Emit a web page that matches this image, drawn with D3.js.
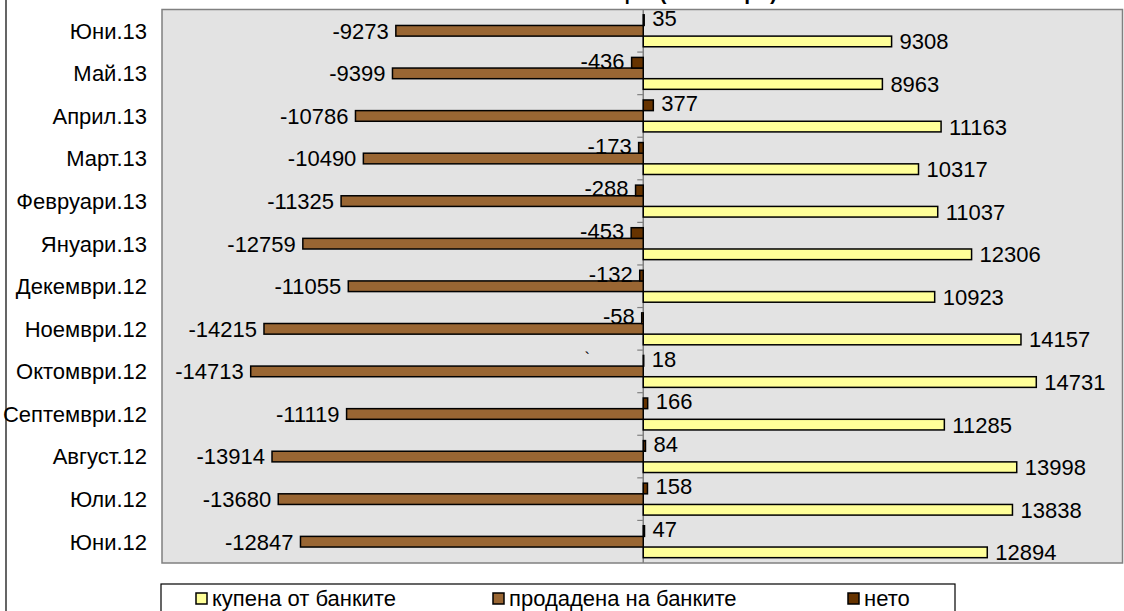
<!DOCTYPE html>
<html>
<head>
<meta charset="utf-8">
<script src="https://cdn.jsdelivr.net/npm/d3@7"></script>
<style>
  body { margin: 0; background: #fff; }
  text { font-family: "Liberation Sans", Arial, sans-serif; }
</style>
</head>
<body>
<div id="chart"></div>
<script>
// months, bottom to top
const months = ["Юни.12", "Юли.12", "Август.12", "Септември.12", "Октомври.12", "Ноември.12",
  "Декември.12", "Януари.13", "Февруари.13", "Март.13", "Април.13", "Май.13", "Юни.13"];
const bought = [12894, 13838, 13998, 11285, 14731, 14157, 10923, 12306, 11037, 10317, 11163, 8963, 9308];
const sold = [-12847, -13680, -13914, -11119, -14713, -14215, -11055, -12759, -11325, -10490, -10786, -9399, -9273];
const net = [47, 158, 84, 166, 18, -58, -132, -453, -288, -173, 377, -436, 35];
const seriesNames = ["купена от банките", "продадена на банките", "нето"];
const xDomain = [-18000, 18000];

const W = 1124, H = 611;
const plot = {left: 162, right: 1122.5, top: 9.5, bottom: 563};
const colors = {bought: "#ffff99", sold: "#996633", net: "#663300"};

const svg = d3.select("#chart").append("svg")
    .attr("width", W)
    .attr("height", H);

// chart area border (top/right/bottom run off the picture)
svg.append("rect")
    .attr("x", 6).attr("y", -10)
    .attr("width", 1130).attr("height", 640)
    .attr("fill", "#fff")
    .attr("stroke", "#000")
    .attr("stroke-width", 1.2);

// title, mostly cut off at the top edge
svg.append("text")
    .attr("x", 777).attr("y", -0.5)
    .attr("text-anchor", "end")
    .style("font-size", "21px")
    .style("font-weight", "bold")
    .text("Нетна позиция (млн. евро)");

svg.append("rect")
    .attr("x", plot.left).attr("y", plot.top)
    .attr("width", plot.right - plot.left).attr("height", plot.bottom - plot.top)
    .attr("fill", "#e3e3e3")
    .attr("stroke", "#808080")
    .attr("stroke-width", 1.5);

const x = d3.scaleLinear()
    .domain(xDomain)
    .range([plot.left + 1, plot.right + 1]);

const y = d3.scaleBand()
    .domain(months)
    .range([plot.bottom, plot.top]);

// slots inside a month: net on top, then sold, bought at the bottom
const ySub = d3.scaleBand()
    .domain(["net", "sold", "bought"])
    .range([0, y.bandwidth()])
    .paddingInner(0)
    .paddingOuter(0.5);

const rows = months.map((m, i) => ({month: m, bought: bought[i], sold: sold[i], net: net[i]}));

const g = svg.append("g");

// zero axis and its ticks at the month boundaries
g.append("line")
    .attr("x1", x(0)).attr("x2", x(0))
    .attr("y1", plot.top).attr("y2", plot.bottom)
    .attr("stroke", "#808080")
    .attr("stroke-width", 1.5);

g.selectAll("line.tick")
    .data(months.slice(0, -1))
    .join("line")
    .attr("class", "tick")
    .attr("x1", x(0) - 6).attr("x2", x(0))
    .attr("y1", d => y(d))
    .attr("y2", d => y(d))
    .attr("stroke", "#808080")
    .attr("stroke-width", 1.2);

const keys = ["bought", "sold", "net"];
keys.forEach(k => {
    g.selectAll("rect." + k)
        .data(rows)
        .join("rect")
        .attr("class", k)
        .attr("x", d => x(Math.min(0, d[k])))
        .attr("width", d => Math.abs(x(d[k]) - x(0)))
        .attr("y", d => y(d.month) + ySub(k))
        .attr("height", ySub.bandwidth())
        .attr("fill", colors[k])
        .attr("stroke", "#000")
        .attr("stroke-width", 1.5);
});

// value labels, outside end
const fs = "22px";
keys.forEach(k => {
    g.selectAll("text." + k)
        .data(rows)
        .join("text")
        .attr("class", k)
        .attr("x", d => d[k] >= 0 ? x(d[k]) + 8 : x(d[k]) - 7)
        .attr("y", d => y(d.month) + ySub(k) + ySub.bandwidth() / 2 + (k === "net" ? -2 : 0))
        .attr("dy", "0.36em")
        .attr("text-anchor", d => d[k] >= 0 ? "start" : "end")
        .style("font-size", fs)
        .attr("fill", "#000")
        .text(d => d[k]);
});

// stray mark in the original
g.append("text")
    .attr("x", x(-2200))
    .attr("y", y("Октомври.12") + 14)
    .style("font-size", "16px")
    .text("`");

// month labels
g.selectAll("text.month")
    .data(months)
    .join("text")
    .attr("class", "month")
    .attr("x", 147)
    .attr("y", d => y(d) + y.bandwidth() / 2)
    .attr("dy", "0.36em")
    .attr("text-anchor", "end")
    .style("font-size", fs)
    .text(d => d);

// legend
const legend = svg.append("g");
legend.append("rect")
    .attr("x", 161).attr("y", 584)
    .attr("width", 794).attr("height", 40)
    .attr("fill", "#fff")
    .attr("stroke", "#000")
    .attr("stroke-width", 1.2);

const legendX = [196, 493, 848];
const legendColors = [colors.bought, colors.sold, colors.net];
seriesNames.forEach((name, i) => {
    legend.append("rect")
        .attr("x", legendX[i]).attr("y", 593)
        .attr("width", 11).attr("height", 11)
        .attr("fill", legendColors[i])
        .attr("stroke", "#000")
        .attr("stroke-width", 1.5);
    legend.append("text")
        .attr("x", legendX[i] + 16).attr("y", 606)
        .style("font-size", fs)
        .text(name);
});
</script>
</body>
</html>
